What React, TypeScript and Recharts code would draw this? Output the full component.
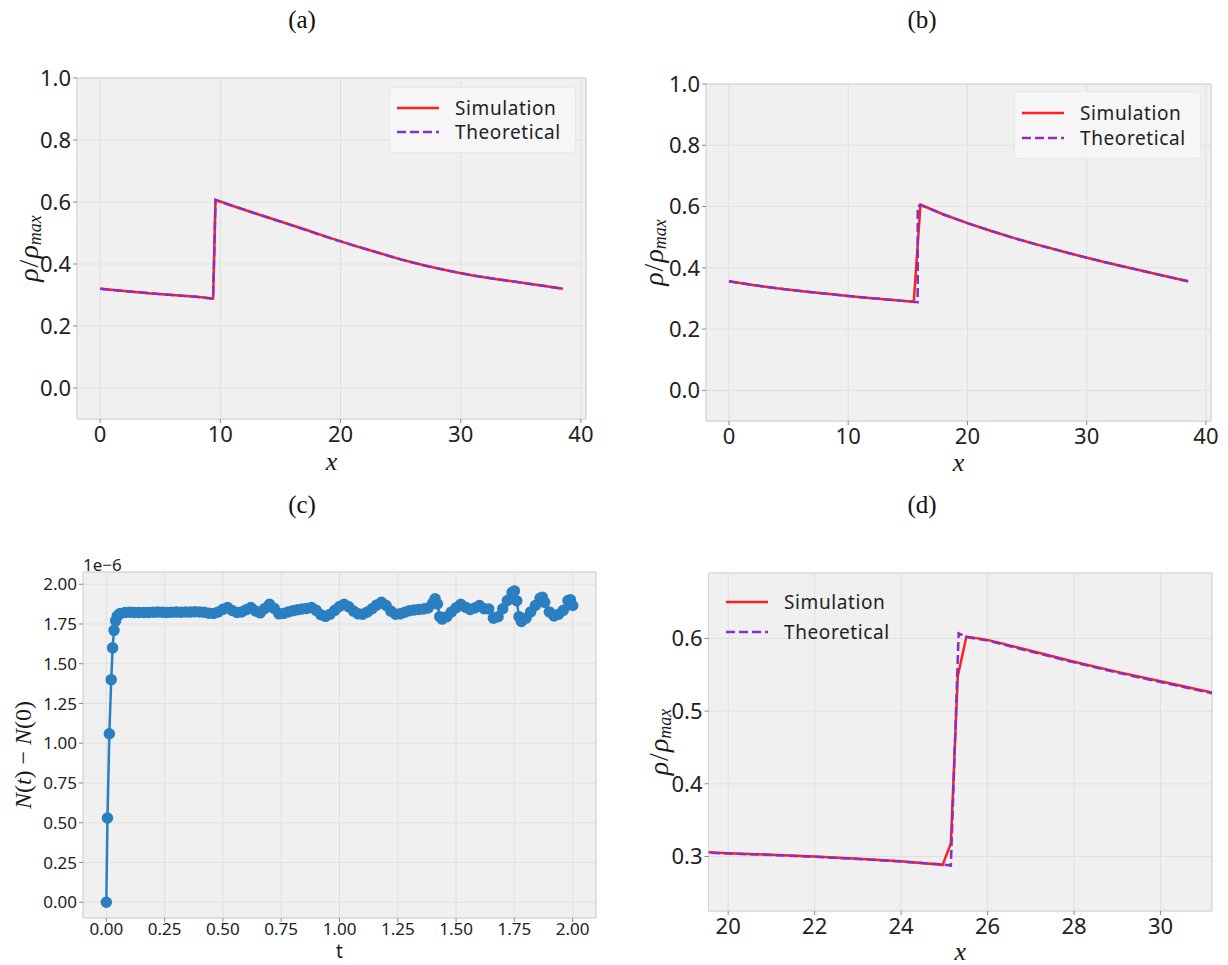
import React from 'react';
import { LineChart, Line, XAxis, YAxis, CartesianGrid, ReferenceArea, Legend, Label } from 'recharts';

// ---------- data ----------
// (a)
const aSimX = [0, 2, 4, 6, 8, 9.4, 9.6, 11, 13, 15, 17, 19, 21, 23, 25, 27, 29, 31, 33, 35, 37, 38.5];
const aSimY = [0.320, 0.313, 0.306, 0.300, 0.294, 0.289, 0.607, 0.588, 0.562, 0.537, 0.512, 0.486, 0.461, 0.438, 0.415, 0.395, 0.378, 0.363, 0.351, 0.340, 0.329, 0.320];
const aTheoX = [0, 2, 4, 6, 8, 9.4, 9.6, 11, 13, 15, 17, 19, 21, 23, 25, 27, 29, 31, 33, 35, 37, 38.5];
const aTheoY = [0.320, 0.313, 0.306, 0.300, 0.294, 0.288, 0.606, 0.588, 0.562, 0.537, 0.511, 0.485, 0.461, 0.438, 0.415, 0.395, 0.378, 0.363, 0.351, 0.340, 0.329, 0.320];

// (b)
const bSimX = [0, 2, 4, 6, 8, 10, 12, 14, 15.5, 16.06, 18, 20, 22, 24, 26, 28, 30, 32, 34, 36, 38.5];
const bSimY = [0.356, 0.344, 0.333, 0.324, 0.316, 0.308, 0.301, 0.294, 0.289, 0.606, 0.574, 0.546, 0.520, 0.496, 0.474, 0.453, 0.433, 0.414, 0.396, 0.378, 0.356];
const bTheoX = [0, 2, 4, 6, 8, 10, 12, 14, 15.83, 15.83, 16.06, 18, 20, 22, 24, 26, 28, 30, 32, 34, 36, 38.5];
const bTheoY = [0.356, 0.344, 0.333, 0.324, 0.316, 0.308, 0.301, 0.294, 0.288, 0.600, 0.605, 0.574, 0.546, 0.520, 0.496, 0.474, 0.453, 0.433, 0.414, 0.396, 0.378, 0.356];

// (c)
const cT = [
  0, 0.005, 0.013, 0.021, 0.027, 0.033, 0.04, 0.047, 0.055, 0.06, 0.08,
  0.10, 0.12, 0.14, 0.16, 0.18, 0.20, 0.22, 0.24, 0.26, 0.28, 0.30,
  0.32, 0.34, 0.36, 0.38, 0.40, 0.42, 0.44, 0.46, 0.48, 0.50,
  0.52, 0.54, 0.56, 0.58, 0.60, 0.62, 0.64, 0.66, 0.68, 0.70,
  0.72, 0.74, 0.76, 0.78, 0.80, 0.82, 0.84, 0.86, 0.88, 0.90,
  0.92, 0.94, 0.96, 0.98, 1.00, 1.02, 1.04, 1.06, 1.08, 1.10,
  1.12, 1.14, 1.16, 1.18, 1.20, 1.22, 1.24, 1.26, 1.28, 1.30,
  1.32, 1.34, 1.36, 1.38, 1.40, 1.41, 1.42, 1.43, 1.44, 1.46, 1.48, 1.50,
  1.52, 1.54, 1.56, 1.58, 1.60, 1.62, 1.64, 1.66, 1.68, 1.70,
  1.72, 1.74, 1.75, 1.76, 1.77, 1.78, 1.80, 1.82, 1.84, 1.86, 1.87, 1.88, 1.90,
  1.92, 1.94, 1.96, 1.98, 1.99, 2.00,
];
const cN = [
  0, 0.53, 1.06, 1.40, 1.60, 1.71, 1.77, 1.80, 1.812, 1.816, 1.822,
  1.824, 1.823, 1.822, 1.823, 1.822, 1.824, 1.825, 1.824, 1.823, 1.824, 1.825,
  1.824, 1.826, 1.825, 1.827, 1.826, 1.824, 1.818, 1.816, 1.826, 1.842,
  1.854, 1.835, 1.822, 1.826, 1.840, 1.853, 1.832, 1.820, 1.848, 1.874,
  1.848, 1.814, 1.816, 1.826, 1.834, 1.840, 1.844, 1.848, 1.854, 1.836,
  1.808, 1.798, 1.811, 1.836, 1.860, 1.874, 1.858, 1.831, 1.814, 1.812,
  1.826, 1.846, 1.870, 1.886, 1.866, 1.831, 1.811, 1.814, 1.824, 1.834,
  1.838, 1.841, 1.844, 1.851, 1.882, 1.908, 1.876, 1.796, 1.781, 1.796, 1.826, 1.852,
  1.874, 1.856, 1.841, 1.851, 1.866, 1.846, 1.844, 1.786, 1.796, 1.846,
  1.898, 1.948, 1.958, 1.896, 1.796, 1.766, 1.786, 1.826, 1.866, 1.912, 1.918, 1.886, 1.826,
  1.801, 1.811, 1.836, 1.898, 1.903, 1.866,
];

// (d)
const dSimX = [19.3, 20, 21, 22, 23, 24, 24.96, 25.15, 25.31, 25.51, 26, 27, 28, 29, 30, 31, 31.5];
const dSimY = [0.3065, 0.3046, 0.3025, 0.300, 0.297, 0.2935, 0.2885, 0.318, 0.548, 0.6025, 0.598, 0.583, 0.568, 0.554, 0.541, 0.528, 0.522];
const dTheoX = [19.3, 20, 21, 22, 23, 24, 24.96, 25.15, 25.33, 25.51, 26, 27, 28, 29, 30, 31, 31.5];
const dTheoY = [0.306, 0.304, 0.302, 0.2995, 0.2965, 0.293, 0.289, 0.2875, 0.607, 0.602, 0.597, 0.582, 0.567, 0.553, 0.540, 0.527, 0.521];

// ticks
const rhoTicks = [0, 0.2, 0.4, 0.6, 0.8, 1.0];
const xTicks40 = [0, 10, 20, 30, 40];
const cYTicks = [0, 0.25, 0.5, 0.75, 1.0, 1.25, 1.5, 1.75, 2.0];
const cXTicks = [0, 0.25, 0.5, 0.75, 1.0, 1.25, 1.5, 1.75, 2.0];
const dYTicks = [0.3, 0.4, 0.5, 0.6];
const dXTicks = [20, 22, 24, 26, 28, 30];

const titles = ['(a)', '(b)', '(c)', '(d)'];
const seriesNames = ['Simulation', 'Theoretical'];

// ---------- helpers ----------
const zip = (xs: number[], ys: number[]) => xs.map((x, i) => ({ x, y: ys[i] }));

const SANS = '"Noto Sans", "DejaVu Sans", sans-serif';
const SERIF = '"Liberation Serif", "DejaVu Serif", serif';
const RED = '#ff1f1f';
const PURPLE = '#8a2ec4';
const BLUE = '#2a7fc1';

type S = { name: string; data: { x: number; y: number }[]; color: string; dash?: string; width: number; dot?: any };

type PanelProps = {
  left: number; top: number; W: number; H: number;
  margin: { top: number; right: number; bottom: number; left: number };
  yAxisWidth: number;
  xDomain: [number, number]; xTicks: number[]; xFmt: (v: number) => string;
  yDomain: [number, number]; yTicks: number[]; yFmt: (v: number) => string;
  tickFont: number;
  xTickMargin?: number;
  series: S[];
  legend?: { left: number; top: number; rowH: number; boxed: boolean };
  xLabel: (vb: any) => React.ReactNode;
  yLabel: (vb: any) => React.ReactNode;
  extraY?: (vb: any) => React.ReactNode;
};

function LegendBox({ series, rowH, boxed }: { series: S[]; rowH: number; boxed: boolean }) {
  return (
    <div style={{
      background: boxed ? 'rgba(247,247,247,0.8)' : 'transparent',
      border: boxed ? '1px solid #e8e8e8' : '1px solid transparent',
      borderRadius: 4, padding: '8px 14px 8px 6px',
    }}>
      {series.map((s) => (
        <div key={s.name} style={{ display: 'flex', alignItems: 'center', height: rowH }}>
          <svg width={44} height={10} style={{ display: 'block' }}>
            <line x1={1} y1={5} x2={43} y2={5} stroke={s.color} strokeWidth={s.width} strokeDasharray={s.dash} />
          </svg>
          <span style={{ marginLeft: 15, fontFamily: SANS, fontSize: 19, letterSpacing: 0.6, color: '#222' }}>{s.name}</span>
        </div>
      ))}
    </div>
  );
}

function Panel(p: PanelProps) {
  const tickStyle = { fontSize: p.tickFont, fill: '#222', fontFamily: SANS };
  return (
    <div style={{ position: 'absolute', left: p.left, top: p.top, width: p.W, height: p.H }}>
      <LineChart width={p.W} height={p.H} margin={p.margin}>
        <CartesianGrid fill="#f0f0f0" stroke="#e0e0e0" strokeWidth={1} />
        <XAxis
          type="number" dataKey="x" domain={p.xDomain} ticks={p.xTicks} tickFormatter={p.xFmt}
          allowDataOverflow axisLine={false} tickLine={{ stroke: '#8a8a8a' }} tickSize={4} tickMargin={p.xTickMargin ?? 3}
          height={40} tick={tickStyle} interval={0}
        >
          <Label content={(lp: any) => p.xLabel(lp.viewBox)} />
        </XAxis>
        <YAxis
          type="number" domain={p.yDomain} ticks={p.yTicks} tickFormatter={p.yFmt}
          allowDataOverflow axisLine={false} tickLine={{ stroke: '#8a8a8a' }} tickSize={4} tickMargin={2}
          width={p.yAxisWidth} tick={tickStyle} interval={0}
        >
          <Label content={(lp: any) => (
            <g>
              {p.yLabel(lp.viewBox)}
              {p.extraY ? p.extraY(lp.viewBox) : null}
            </g>
          )} />
        </YAxis>
        <ReferenceArea x1={p.xDomain[0]} x2={p.xDomain[1]} y1={p.yDomain[0]} y2={p.yDomain[1]} fill="none" stroke="#d4d4d4" strokeWidth={1} ifOverflow="visible" />
        {p.legend ? (
          <Legend
            layout="horizontal" verticalAlign="middle" align="center"
            wrapperStyle={{ left: p.legend.left, top: p.legend.top, width: 'auto', height: 'auto' }}
            content={() => <LegendBox series={p.series} rowH={p.legend!.rowH} boxed={p.legend!.boxed} />}
          />
        ) : null}
        {p.series.map((s) => (
          <Line
            key={s.name} name={s.name} data={s.data} dataKey="y" type="linear"
            stroke={s.color} strokeWidth={s.width} strokeDasharray={s.dash}
            dot={s.dot ?? false} activeDot={false} isAnimationActive={false}
          />
        ))}
      </LineChart>
    </div>
  );
}

const rhoYLabel = (dx: number) => (vb: any) => {
  const cx = vb.x + vb.width - dx;
  const cy = vb.y + vb.height / 2;
  return (
    <text x={cx} y={cy} transform={`rotate(-90, ${cx}, ${cy})`} textAnchor="middle" dominantBaseline="central"
      fontFamily={SERIF} fontStyle="italic" fontSize={28} fill="#1a1a1a">
      <tspan>ρ</tspan><tspan fontStyle="normal" dx={1}>/</tspan><tspan dx={1}>ρ</tspan>
      <tspan fontSize={18} dy={7}>max</tspan>
    </text>
  );
};

const axisXLabel = (text: string, dy: number, italic = true, font = SERIF, size = 26) => (vb: any) => (
  <text x={vb.x + vb.width / 2} y={vb.y + dy} textAnchor="middle" dominantBaseline="central"
    fontFamily={font} fontStyle={italic ? 'italic' : 'normal'} fontSize={size} fill="#1a1a1a">{text}</text>
);

const f1 = (v: number) => v.toFixed(1);
const f2 = (v: number) => v.toFixed(2);
const f0 = (v: number) => String(Math.round(v));

export default function App() {
  const simStyle = { color: RED, width: 2.5 };
  const theoStyle = { color: PURPLE, width: 2.5, dash: '9 4' };

  const aSeries: S[] = [
    { name: seriesNames[0], data: zip(aSimX, aSimY), ...simStyle },
    { name: seriesNames[1], data: zip(aTheoX, aTheoY), ...theoStyle },
  ];
  const bSeries: S[] = [
    { name: seriesNames[0], data: zip(bSimX, bSimY), ...simStyle },
    { name: seriesNames[1], data: zip(bTheoX, bTheoY), ...theoStyle },
  ];
  const cSeries: S[] = [
    { name: 'N', data: zip(cT, cN), color: BLUE, width: 2.5, dot: { r: 5, fill: BLUE, stroke: BLUE, strokeWidth: 1.5 } },
  ];
  const dSeries: S[] = [
    { name: seriesNames[0], data: zip(dSimX, dSimY), ...simStyle },
    { name: seriesNames[1], data: zip(dTheoX, dTheoY), ...theoStyle },
  ];

  const titleStyle = (cx: number, cy: number): React.CSSProperties => ({
    position: 'absolute', left: cx - 40, top: cy - 16, width: 80, height: 32, textAlign: 'center',
    lineHeight: '32px', fontFamily: SERIF, fontSize: 25, color: '#111',
  });

  return (
    <div style={{ position: 'absolute', left: 0, top: 0, width: 1228, height: 965, background: '#ffffff', overflow: 'hidden' }}>
      <div style={titleStyle(302, 20)}>{titles[0]}</div>
      <div style={titleStyle(922, 20)}>{titles[1]}</div>
      <div style={titleStyle(302, 505)}>{titles[2]}</div>
      <div style={titleStyle(922, 505)}>{titles[3]}</div>

      {/* (a) plot: L77 T78 R586 B419 */}
      <Panel
        left={0} top={40} W={610} H={450}
        margin={{ top: 38, right: 24, bottom: 31, left: 17 }} yAxisWidth={60}
        xDomain={[-1.925, 40.425]} xTicks={xTicks40} xFmt={f0}
        yDomain={[-0.1, 1.0]} yTicks={rhoTicks} yFmt={f1}
        tickFont={22} series={aSeries}
        legend={{ left: 389, top: 47, rowH: 24, boxed: true }}
        xLabel={axisXLabel('x', 42)} yLabel={rhoYLabel(49)}
      />

      {/* (b) plot: L706 T84 R1211 B421 */}
      <Panel
        left={610} top={40} W={618} H={450}
        margin={{ top: 44, right: 17, bottom: 29, left: 36 }} yAxisWidth={60}
        xDomain={[-1.925, 40.425]} xTicks={xTicks40} xFmt={f0}
        yDomain={[-0.1, 1.0]} yTicks={rhoTicks} yFmt={f1}
        tickFont={22} series={bSeries}
        legend={{ left: 404, top: 51, rowH: 25, boxed: true }}
        xLabel={axisXLabel('x', 41)} yLabel={rhoYLabel(53)}
      />

      {/* (c) plot: L83 T572 R596 B918 */}
      <Panel
        left={0} top={530} W={610} H={435}
        margin={{ top: 42, right: 14, bottom: 7, left: 13 }} yAxisWidth={70}
        xDomain={[-0.1, 2.1]} xTicks={cXTicks} xFmt={f2}
        yDomain={[-0.099, 2.077]} yTicks={cYTicks} yFmt={f2}
        tickFont={17} xTickMargin={1} series={cSeries}
        xLabel={axisXLabel('t', 33, false, SANS, 19)}
        yLabel={(vb: any) => {
          const cx = vb.x + vb.width - 60;
          const cy = vb.y + vb.height / 2 + 10;
          return (
            <text x={cx} y={cy} transform={`rotate(-90, ${cx}, ${cy})`} textAnchor="middle" dominantBaseline="central"
              fontFamily={SERIF} fontSize={24} fill="#1a1a1a">
              <tspan fontStyle="italic">N</tspan><tspan>(</tspan><tspan fontStyle="italic">t</tspan><tspan>) − </tspan>
              <tspan fontStyle="italic">N</tspan><tspan>(0)</tspan>
            </text>
          );
        }}
        extraY={(vb: any) => (
          <text x={vb.x + vb.width} y={vb.y - 8} textAnchor="start" dominantBaseline="central"
            fontFamily={SANS} fontSize={17} fill="#222">1e−6</text>
        )}
      />

      {/* (d) plot: L708.5 T573 R1212 B911 */}
      <Panel
        left={610} top={530} W={618} H={435}
        margin={{ top: 43, right: 16, bottom: 14, left: 38.5 }} yAxisWidth={60}
        xDomain={[19.545, 31.19]} xTicks={dXTicks} xFmt={f0}
        yDomain={[0.225, 0.69]} yTicks={dYTicks} yFmt={f1}
        tickFont={22} series={dSeries}
        legend={{ left: 108, top: 48, rowH: 30, boxed: false }}
        xLabel={axisXLabel('x', 40)} yLabel={rhoYLabel(51)}
      />
    </div>
  );
}
